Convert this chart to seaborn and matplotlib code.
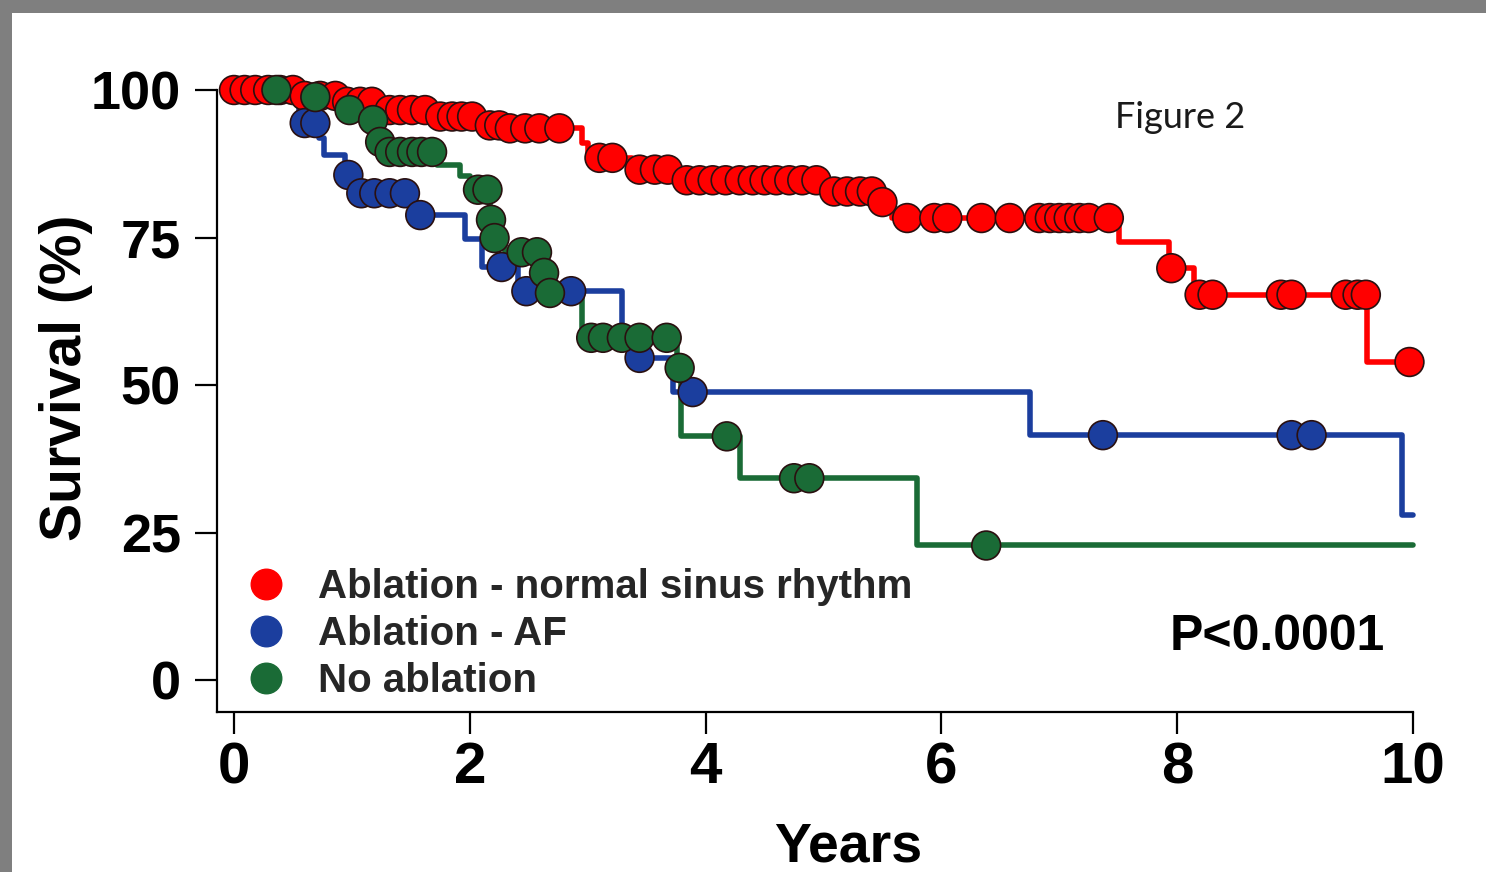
import matplotlib
matplotlib.use("Agg")
import matplotlib.pyplot as plt
from matplotlib.lines import Line2D
from matplotlib.patches import Rectangle
import pandas as pd
import seaborn as sns

# ---- Kaplan-Meier estimates (years, survival %) ----
groups = ["Ablation - normal sinus rhythm", "Ablation - AF", "No ablation"]
colors = ["#FF0000", "#1B3E9E", "#1A6B36"]

nsr_time = [0.0, 0.55, 0.92, 1.25, 1.72, 2.12, 2.30, 2.95, 3.00, 3.38, 3.75,
            5.05, 5.45, 5.58, 7.51, 7.93, 8.14, 9.61, 10.0]
nsr_surv = [100, 99.0, 98.0, 96.6, 95.5, 94.0, 93.5, 91.0, 88.5, 86.5, 84.7,
            82.8, 81.0, 78.3, 74.2, 69.8, 65.3, 53.9, 53.9]
nsr_cens_time = [0.0, 0.09, 0.18, 0.29, 0.39, 0.50, 0.60, 0.73, 0.86, 0.96,
                 1.07, 1.17, 1.32, 1.41, 1.51, 1.62, 1.75, 1.85, 1.93, 2.02,
                 2.17, 2.25, 2.34, 2.47, 2.59, 2.76, 3.10, 3.21, 3.44, 3.57,
                 3.68, 3.84, 3.95, 4.06, 4.17, 4.29, 4.40, 4.50, 4.60, 4.71,
                 4.82, 4.94, 5.09, 5.20, 5.31, 5.41, 5.50, 5.71, 5.94, 6.05,
                 6.34, 6.58, 6.83, 6.92, 7.00, 7.08, 7.17, 7.25, 7.42, 7.95,
                 8.19, 8.30, 8.88, 8.97, 9.43, 9.53, 9.60, 9.97]
nsr_cens_surv = [100, 100, 100, 100, 100, 100, 99.0, 99.0, 99.0, 98.0,
                 98.0, 98.0, 96.6, 96.6, 96.6, 96.6, 95.5, 95.5, 95.5, 95.5,
                 94.0, 94.0, 93.5, 93.5, 93.5, 93.5, 88.5, 88.5, 86.5, 86.5,
                 86.5, 84.7, 84.7, 84.7, 84.7, 84.7, 84.7, 84.7, 84.7, 84.7,
                 84.7, 84.7, 82.8, 82.8, 82.8, 82.8, 81.0, 78.3, 78.3, 78.3,
                 78.3, 78.3, 78.3, 78.3, 78.3, 78.3, 78.3, 78.3, 78.3, 69.8,
                 65.3, 65.3, 65.3, 65.3, 65.3, 65.3, 65.3, 53.9]

af_time = [0.0, 0.55, 0.72, 0.76, 0.94, 1.02, 1.52, 1.96, 2.10, 2.41, 3.29,
           3.40, 3.72, 6.75, 9.91, 10.0]
af_surv = [100, 94.4, 91.9, 89.0, 85.6, 82.5, 78.8, 74.8, 70.0, 65.9, 59.5,
           54.6, 48.8, 41.5, 28.0, 28.0]
af_cens_time = [0.60, 0.69, 0.97, 1.08, 1.19, 1.32, 1.45, 1.58, 2.27, 2.48,
                2.86, 3.44, 3.89, 7.37, 8.97, 9.14]
af_cens_surv = [94.4, 94.4, 85.6, 82.5, 82.5, 82.5, 82.5, 78.8, 70.0, 65.9,
                65.9, 54.6, 48.8, 41.5, 41.5, 41.5]

noabl_time = [0.0, 0.50, 0.90, 1.10, 1.22, 1.28, 1.72, 1.92, 2.00, 2.17,
              2.195, 2.30, 2.60, 2.655, 2.95, 3.76, 3.79, 4.29, 5.79, 10.0]
noabl_surv = [100, 98.8, 96.6, 94.9, 91.2, 89.5, 87.3, 85.4, 83.1, 78.0,
              74.9, 72.5, 69.0, 65.6, 58.0, 52.9, 41.3, 34.2, 22.8, 22.8]
noabl_cens_time = [0.36, 0.69, 0.98, 1.18, 1.24, 1.32, 1.41, 1.51, 1.59, 1.68,
                   2.07, 2.15, 2.18, 2.21, 2.44, 2.57, 2.63, 2.68, 3.03, 3.13,
                   3.29, 3.44, 3.67, 3.78, 4.18, 4.75, 4.88, 6.38]
noabl_cens_surv = [100, 98.8, 96.6, 94.9, 91.2, 89.5, 89.5, 89.5, 89.5, 89.5,
                   83.1, 83.1, 78.0, 74.9, 72.5, 72.5, 69.0, 65.6, 58.0, 58.0,
                   58.0, 58.0, 58.0, 52.9, 41.3, 34.2, 34.2, 22.8]

x_ticks = [0, 2, 4, 6, 8, 10]
y_ticks = [0, 25, 50, 75, 100]

# ---- tidy frames for seaborn ----
curves = pd.concat([
    pd.DataFrame({"time": t, "survival": s, "group": g})
    for t, s, g in [(nsr_time, nsr_surv, groups[0]),
                    (af_time, af_surv, groups[1]),
                    (noabl_time, noabl_surv, groups[2])]
], ignore_index=True)
censored = pd.concat([
    pd.DataFrame({"time": t, "survival": s, "group": g})
    for t, s, g in [(nsr_cens_time, nsr_cens_surv, groups[0]),
                    (af_cens_time, af_cens_surv, groups[1]),
                    (noabl_cens_time, noabl_cens_surv, groups[2])]
], ignore_index=True)
palette = dict(zip(groups, colors))

sns.set_theme(style="ticks")
plt.rcParams["font.family"] = ["Liberation Sans", "DejaVu Sans"]
plt.rcParams["font.weight"] = "bold"

W, H = 1486, 872
fig = plt.figure(figsize=(W / 100, H / 100), dpi=100)
fig.patch.set_facecolor("white")
# grey frame along the top and left edges
fig.patches.append(Rectangle((0, 1 - 13 / H), 1, 13 / H, transform=fig.transFigure,
                             facecolor="#7F7F7F", edgecolor="none", zorder=0))
fig.patches.append(Rectangle((0, 0), 12 / W, 1, transform=fig.transFigure,
                             facecolor="#7F7F7F", edgecolor="none", zorder=0))

ax = fig.add_axes([217 / W, 160 / H, 1196 / W, 622 / H])
ax.set_facecolor("none")

sns.lineplot(data=curves, x="time", y="survival", hue="group", palette=palette,
             hue_order=groups, estimator=None, sort=False, drawstyle="steps-post",
             linewidth=4, legend=False, clip_on=False, ax=ax, zorder=2)
sns.scatterplot(data=censored, x="time", y="survival", hue="group", palette=palette,
                hue_order=groups, s=430, edgecolor="#2a1010", linewidth=1.2,
                legend=False, clip_on=False, ax=ax, zorder=3)

ax.set_xlim(-0.144, 10.0)
ax.set_ylim(-5.42, 100)
ax.set_xticks(x_ticks)
ax.set_yticks(y_ticks)
ax.set_xticklabels([str(v) for v in x_ticks])
ax.set_yticklabels([str(v) for v in y_ticks])
sns.despine(ax=ax)
for side in ("left", "bottom"):
    ax.spines[side].set_linewidth(1.6)
    ax.spines[side].set_color("black")
ax.tick_params(axis="both", length=16, width=1.6, color="black", labelcolor="black")
ax.tick_params(axis="y", pad=10, labelsize=39)
ax.tick_params(axis="x", pad=5, labelsize=42)
for lab in ax.get_xticklabels() + ax.get_yticklabels():
    lab.set_fontweight("bold")

ax.set_xlabel("Years", fontsize=40, fontweight="bold", color="black")
ax.set_ylabel("Survival (%)", fontsize=41, fontweight="bold", color="black")
ax.xaxis.set_label_coords(0.528, -0.176)
ax.yaxis.set_label_coords(-0.104, 0.537)

handles = [Line2D([], [], marker="o", linestyle="none", markersize=22,
                  markerfacecolor=c, markeredgecolor=c) for c in colors]
leg = ax.legend(handles, groups, loc="upper left", bbox_to_anchor=(0.024, 0.232),
                frameon=False, fontsize=29, handlelength=1.0, handletextpad=0.8,
                labelspacing=0.224, borderpad=0, borderaxespad=0)
for t in leg.get_texts():
    t.set_fontweight("bold")

ax.text(0.9766, 0.0997, "P<0.0001", transform=ax.transAxes, ha="right",
        va="baseline", fontsize=36, fontweight="bold", color="black")
fig.text(1115 / W, 1 - 128 / H, "Figure 2", ha="left", va="baseline",
         fontsize=26, fontfamily="Lato", fontweight="normal", color="#1a1a1a")

fig.savefig("out.png", dpi=100, facecolor=fig.get_facecolor())
